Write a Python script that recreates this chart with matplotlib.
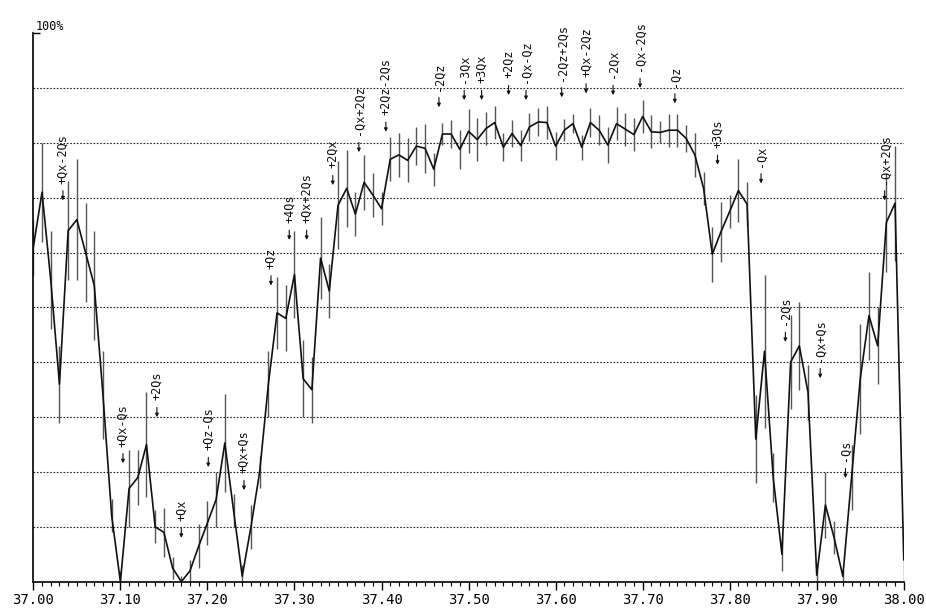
import numpy as np
import matplotlib as mpl

mpl.use('agg')

import matplotlib.pyplot as plt
from matplotlib.ticker import MultipleLocator, FormatStrFormatter

# tune scan 37.00 .. 38.00, one point every 0.01
tune = np.round(np.arange(37.00, 38.001, 0.01), 2)

# polarization level in percent
polar = [
    61, 71, 55, 36, 64, 66, 60, 54, 34, 12,
    0, 17, 19, 25, 10, 9, 2.5, 0, 2, 6.5,
    10.7, 15, 25.3, 13, 1, 10, 20, 36, 49, 48,
    56, 37, 35, 59, 53, 68.6, 71.7, 67, 72.8, 70.5,
    68, 77, 77.8, 76.8, 79.4, 79, 75.2, 81.6, 81.6, 78.8,
    82.1, 80.6, 82.6, 83.7, 79.2, 81.7, 79.5, 82.9, 83.8, 83.7,
    79.4, 82.3, 83.5, 79.2, 83.7, 82.3, 79.6, 83.5, 82.5, 81.5,
    84.8, 82, 81.9, 82.3, 82.3, 80.8, 77.8, 71.7, 59.7, 63.8,
    67.5, 71.3, 68.8, 26, 42, 19, 5, 40, 43, 34.5,
    1.2, 14, 8, 1, 19, 37, 48.5, 43, 65.5, 69,
    4,
]

# error bar half length in percent
polar_err = [
    5, 9, 9, 7, 9, 11, 9, 10, 8, 3,
    2, 7, 5, 9.5, 3, 4.5, 2, 1, 2, 4,
    4, 5, 9, 3, 2, 4, 3, 6, 6.5, 6,
    8, 7, 6, 7.5, 5, 8, 7, 4, 5, 4,
    3, 4, 4, 4, 3.5, 4.5, 3, 2, 2.5, 3.5,
    4, 4, 3, 3, 2.6, 2.5, 2.8, 2.5, 2.5, 3,
    2.5, 2, 1.7, 2.3, 2.6, 2.7, 3.2, 3, 3, 3,
    3, 3, 2, 3, 3, 2.5, 4, 3, 5, 5.5,
    3, 5.7, 4, 8, 14, 4.5, 3, 8.6, 8, 5,
    2, 6, 3, 1, 6, 10, 8, 7, 9, 10.5,
    7,
]

# resonance labels: text, tune, arrow tip level (%)
res_labels = ['+Qx-2Qs', '+Qx-Qs', '+2Qs', '+Qx', '+Qz-Qs', '+Qx+Qs',
              '+Qz', '+4Qs', '+Qx+2Qs', '+2Qx', '-Qx+2Qz', '+2Qz-2Qs',
              '-2Qz', '-3Qx', '+3Qx', '+2Qz', '-Qx-Qz', '-2Qz+2Qs',
              '+Qx-2Qz', '-2Qx', '-Qx-2Qs', '-Qz', '+3Qs', '-Qx',
              '-2Qs', '-Qx+Qs', '-Qs', '-Qx+2Qs']
res_tune = [37.034, 37.103, 37.142, 37.170, 37.201, 37.242,
            37.273, 37.294, 37.314, 37.344, 37.374, 37.405,
            37.466, 37.495, 37.515, 37.546, 37.566, 37.607,
            37.635, 37.666, 37.697, 37.737, 37.786, 37.836,
            37.864, 37.904, 37.933, 37.978]
res_level = [69.5, 21.6, 30, 8, 20.9, 16.7,
             54, 62.3, 62.3, 72.3, 78.3, 82,
             86.5, 87.8, 87.8, 88.7, 87.8, 88.3,
             89, 88.7, 90, 87.2, 76, 72.6,
             43.7, 37.1, 18.9, 69.5]


def main():
    fig = plt.figure(figsize=(9.26, 6.13), dpi=100)
    ax = fig.add_axes([0.036, 0.051, 0.940, 0.895])

    # error bars first, then the connecting line
    ax.errorbar(tune, polar, yerr=polar_err, fmt='none',
                ecolor='#555555', elinewidth=1.0, capsize=0, zorder=2)
    ax.plot(tune, polar, color='#111111', linewidth=1.2, zorder=3)

    for text, x, y in zip(res_labels, res_tune, res_level):
        ax.annotate(text, xy=(x, y), xytext=(0, 12), textcoords='offset points',
                    rotation=90, ha='center', va='bottom',
                    family='DejaVu Sans Mono', fontsize=8.5, color='#111111',
                    arrowprops=dict(arrowstyle='-|>', color='#111111', lw=0.8,
                                    mutation_scale=5, shrinkA=3, shrinkB=0))

    ax.set_xlim(37.00, 38.00)
    ax.set_ylim(0, 100)

    # x axis: labelled every 0.10, small ticks every 0.01
    ax.xaxis.set_major_locator(MultipleLocator(0.1))
    ax.xaxis.set_minor_locator(MultipleLocator(0.01))
    ax.xaxis.set_major_formatter(FormatStrFormatter('%.2f'))
    ax.tick_params(axis='x', which='major', direction='out', length=6,
                   width=1, labelsize=10, pad=2)
    ax.tick_params(axis='x', which='minor', direction='out', length=3, width=0.8)
    for lbl in ax.get_xticklabels():
        lbl.set_family('DejaVu Sans Mono')

    # y axis: dotted level lines every 10 %, only "100%" written
    ax.set_yticks([100])
    ax.set_yticklabels([])
    ax.set_yticks(np.arange(10, 100, 10), minor=True)
    ax.tick_params(axis='y', which='major', direction='in', length=5, width=1)
    ax.tick_params(axis='y', which='minor', length=0)
    ax.grid(axis='y', which='minor', linestyle=(0, (1.5, 1.5)),
            color='#222222', linewidth=0.8)
    ax.text(0.003, 1.0, '100%', transform=ax.transAxes, ha='left',
            va='bottom', family='DejaVu Sans Mono', fontsize=8.5)

    ax.spines['top'].set_visible(False)
    ax.spines['right'].set_visible(False)
    ax.spines['left'].set_linewidth(1.2)
    ax.spines['bottom'].set_linewidth(1.2)

    fig.savefig('out.png', dpi=100)


if __name__ == "__main__":
    main()
